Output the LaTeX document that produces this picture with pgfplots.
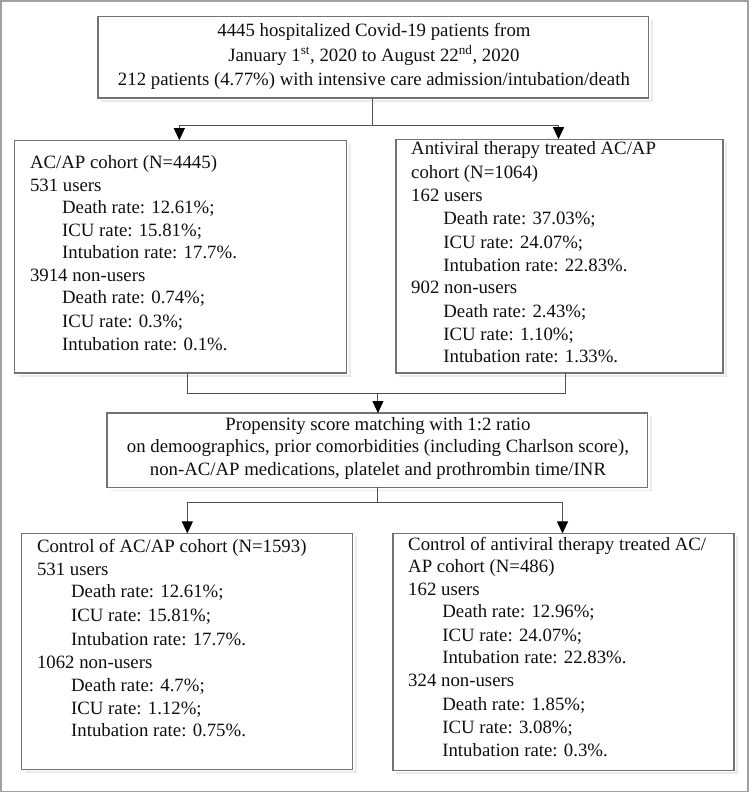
\documentclass[border=0pt]{standalone}
\usepackage{pgfplots}
\pgfplotsset{compat=1.18}
\usepackage{fontspec}
\setmainfont{Liberation Serif}
\usetikzlibrary{arrows.meta}
\definecolor{boxc}{RGB}{115,115,115}
\definecolor{linec}{RGB}{80,80,80}
\definecolor{outc}{RGB}{160,160,160}
\definecolor{shad}{RGB}{235,235,235}
\definecolor{txt}{RGB}{15,15,15}
\tikzset{
  box/.style={boxc,line width=1.2bp},
  sh/.style={shad,line width=1.5bp},
  conn/.style={linec,line width=1bp},
  arr/.style={linec,line width=1bp,-{Triangle[length=12bp,width=11bp,fill=black,color=black]}},
  L/.style={anchor=mid west,font=\fontsize{18.8}{22}\selectfont,text=txt,inner sep=0pt},
  C/.style={anchor=mid,font=\fontsize{18.8}{22}\selectfont,text=txt,inner sep=0pt}}
\begin{document}
\begin{tikzpicture}
\begin{axis}[width=750bp,height=792bp,scale only axis,
  xmin=0,xmax=750,ymin=0,ymax=792,y dir=reverse,hide axis,clip=false,
  every axis plot/.append style={mark=none}]
% outer frame
\addplot[outc,line width=1.5bp] coordinates {(2,2)(747,2)(747,790)(2,790)(2,2)(747,2)};
% faint shadows
\addplot[sh] coordinates {(651,21)(651,102)(102,102)};
\addplot[sh] coordinates {(350,144)(350,376)(19,376)};
\addplot[sh] coordinates {(725,143)(725,376)(399,376)};
\addplot[sh] coordinates {(650,416)(650,490)(111,490)};
\addplot[sh] coordinates {(356,536)(356,771)(26,771)};
\addplot[sh] coordinates {(736,536)(736,772)(396,772)};
% boxes
\addplot[box] coordinates {(99,18)(648,18)(648,99)(99,99)(99,18)(648,18)};
\addplot[box] coordinates {(16,141)(347,141)(347,373)(16,373)(16,141)(347,141)};
\addplot[box] coordinates {(396,140)(722,140)(722,373)(396,373)(396,140)(722,140)};
\addplot[box] coordinates {(108,413)(647,413)(647,487)(108,487)(108,413)(647,413)};
\addplot[box] coordinates {(23,533)(353,533)(353,768)(23,768)(23,533)(353,533)};
\addplot[box] coordinates {(393,533)(733,533)(733,769)(393,769)(393,533)(733,533)};
% connectors
\addplot[conn] coordinates {(373,99)(373,126)};
\addplot[conn] coordinates {(180,126)(558,126)};
\addplot[arr] coordinates {(180,126)(180,141)};
\addplot[arr] coordinates {(558,126)(558,140)};
\addplot[conn] coordinates {(188,373)(188,394)(565,394)(565,373)};
\addplot[arr] coordinates {(378,394)(378,413)};
\addplot[conn] coordinates {(378,487)(378,502)};
\addplot[conn] coordinates {(188,502)(562,502)};
\addplot[arr] coordinates {(188,502)(188,533)};
\addplot[arr] coordinates {(562,502)(562,533)};
% top box text
\node[C] at (374,35) {4445 hospitalized Covid-19 patients from};
\node[C] at (374,60) {January 1\textsuperscript{st}, 2020 to August 22\textsuperscript{nd}, 2020};
\node[C] at (374,84) {212 patients (4.77\%) with intensive care admission/intubation/death};
% left box
\node[L] at (31,167) {AC/AP cohort (N=4445)};
\node[L] at (31,190) {531 users};
\node[L] at (63,212) {Death rate: 12.61\%;};
\node[L] at (63,235) {ICU rate: 15.81\%;};
\node[L] at (63,257) {Intubation rate: 17.7\%.};
\node[L] at (31,280) {3914 non-users};
\node[L] at (63,302) {Death rate: 0.74\%;};
\node[L] at (63,325) {ICU rate: 0.3\%;};
\node[L] at (63,348) {Intubation rate: 0.1\%.};
% right box
\node[L] at (411,153) {Antiviral therapy treated AC/AP};
\node[L] at (411,177) {cohort (N=1064)};
\node[L] at (411,200) {162 users};
\node[L] at (443,223) {Death rate: 37.03\%;};
\node[L] at (443,247) {ICU rate: 24.07\%;};
\node[L] at (443,270) {Intubation rate: 22.83\%.};
\node[L] at (411,292) {902 non-users};
\node[L] at (443,315) {Death rate: 2.43\%;};
\node[L] at (443,338) {ICU rate: 1.10\%;};
\node[L] at (443,360) {Intubation rate: 1.33\%.};
% middle box
\node[C] at (378,428) {Propensity score matching with 1:2 ratio};
\node[C] at (378,450) {on demoographics, prior comorbidities (including Charlson score),};
\node[C] at (378,473) {non-AC/AP medications, platelet and prothrombin time/INR};
% bottom left
\node[L] at (38,550) {Control of AC/AP cohort (N=1593)};
\node[L] at (38,573) {531 users};
\node[L] at (72,595) {Death rate: 12.61\%;};
\node[L] at (72,618) {ICU rate: 15.81\%;};
\node[L] at (72,642) {Intubation rate: 17.7\%.};
\node[L] at (38,665) {1062 non-users};
\node[L] at (72,688) {Death rate: 4.7\%;};
\node[L] at (72,711) {ICU rate: 1.12\%;};
\node[L] at (72,733) {Intubation rate: 0.75\%.};
% bottom right
\node[L] at (408,548) {Control of antiviral therapy treated AC/};
\node[L] at (408,570) {AP cohort (N=486)};
\node[L] at (408,593) {162 users};
\node[L] at (442,615) {Death rate: 12.96\%;};
\node[L] at (442,638) {ICU rate: 24.07\%;};
\node[L] at (442,660) {Intubation rate: 22.83\%.};
\node[L] at (408,683) {324 non-users};
\node[L] at (442,707) {Death rate: 1.85\%;};
\node[L] at (442,730) {ICU rate: 3.08\%;};
\node[L] at (442,753) {Intubation rate: 0.3\%.};
\end{axis}
\end{tikzpicture}
\end{document}
